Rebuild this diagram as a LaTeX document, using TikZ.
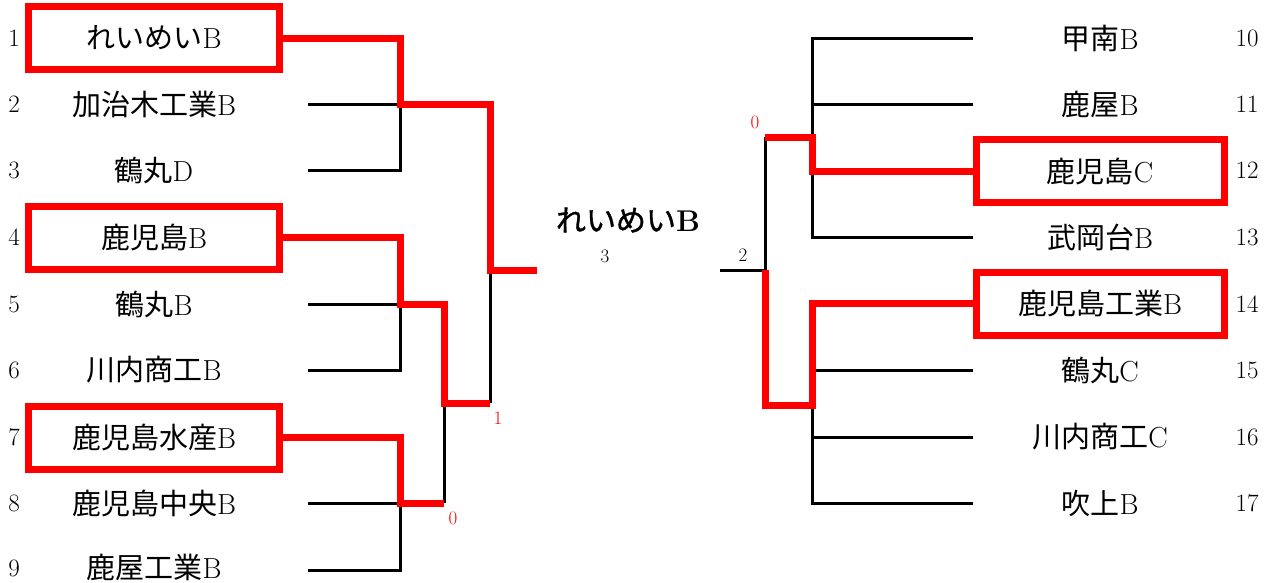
\documentclass[tikz,border=0pt]{standalone}
\usepackage{fontspec}
\newfontfamily\cjk{Noto Sans CJK JP}
\newfontfamily\cjkb[FakeBold=1.2]{Noto Sans CJK JP}
\newcommand\namefont{\fontsize{29}{31}\selectfont}
\newcommand\numfont{\fontsize{25}{27}\selectfont}
\newcommand\scfont{\fontsize{19}{21}\selectfont}
\newcommand\jp[1]{{\cjk #1}}
\begin{document}
\begin{tikzpicture}[x=1pt,y=-1pt,
  nm/.style={minimum width=251pt,minimum height=63pt,inner sep=0pt,font=\namefont},
  rnm/.style={minimum width=248pt,minimum height=63pt,inner sep=0pt,font=\namefont},
  win/.style={draw=red,line width=7pt},
  num/.style={font=\numfont,inner sep=0pt},
  bl/.style={draw=black,line width=3pt},
  rd/.style={draw=red,line width=7pt,line join=miter},
  sc/.style={font=\scfont,inner sep=0pt}]
\useasboundingbox (0,0) rectangle (1274,582);
% left names
\node[nm,win] (L1) at (154,38) {\jp{れいめい}B};
\node[nm] (L2) at (154,104) {\jp{加治木工業}B};
\node[nm] (L3) at (154,170) {\jp{鶴丸}D};
\node[nm,win] (L4) at (154,237.5) {\jp{鹿児島}B};
\node[nm] (L5) at (154,304) {\jp{鶴丸}B};
\node[nm] (L6) at (154,370) {\jp{川内商工}B};
\node[nm,win] (L7) at (154,437.5) {\jp{鹿児島水産}B};
\node[nm] (L8) at (154,503) {\jp{鹿児島中央}B};
\node[nm] (L9) at (154,567) {\jp{鹿屋工業}B};
% left numbers
\foreach \i/\y in {1/38,2/104,3/170,4/237,5/304,6/370,7/437,8/503,9/568}
  \node[num] (n\i) at (14,\y) {\i};
% right names
\node[rnm] (R10) at (1100,38) {\jp{甲南}B};
\node[rnm] (R11) at (1100,104) {\jp{鹿屋}B};
\node[rnm,win] (R12) at (1100,171) {\jp{鹿児島}C};
\node[rnm] (R13) at (1100,237) {\jp{武岡台}B};
\node[rnm,win] (R14) at (1100,303.5) {\jp{鹿児島工業}B};
\node[rnm] (R15) at (1100,370) {\jp{鶴丸}C};
\node[rnm] (R16) at (1100,437) {\jp{川内商工}C};
\node[rnm] (R17) at (1100,503) {\jp{吹上}B};
\foreach \i/\y in {10/38,11/104,12/170,13/237,14/304,15/370,16/437,17/503}
  \node[num] (n\i) at (1247,\y) {\i};
% center
\node[font=\fontsize{30}{32}\selectfont,inner sep=0pt] (champ) at (628,220) {{\cjkb れいめい}\textbf{B}};
\node[sc] (s3) at (605,256) {3};
\node[sc] (s2) at (743,255) {2};
\node[sc,text=red] (s1L) at (498,418) {1};
\node[sc,text=red] (s0L) at (453,518) {0};
\node[sc,text=red] (s0R) at (755,122) {0};
% coordinates left
\coordinate (a2) at (308,104); \coordinate (a3) at (308,170);
\coordinate (a5) at (308,304); \coordinate (a6) at (308,370);
\coordinate (a8) at (308,503); \coordinate (a9) at (308,570);
\coordinate (jA) at (400,104); \coordinate (jB) at (400,304); \coordinate (jC) at (400,503);
\coordinate (kB) at (444,403); \coordinate (kBC) at (444,503);
\coordinate (mT) at (490,104); \coordinate (mO) at (490,270); \coordinate (mB) at (490,403);
\coordinate (fL) at (537,270);
% coordinates right
\coordinate (b10) at (973,38); \coordinate (b11) at (973,104); \coordinate (b13) at (973,237);
\coordinate (b15) at (973,370); \coordinate (b16) at (973,437); \coordinate (b17) at (973,503);
\coordinate (pT) at (812,38); \coordinate (pB) at (812,237);
\coordinate (qT) at (812,405); \coordinate (qB) at (812,503);
\coordinate (rT) at (765,137); \coordinate (rO) at (765,270); \coordinate (rB) at (765,405);
\coordinate (fR) at (720,270);
% black lines left
\draw[bl] (a2) -- (jA);
\draw[bl] (a3) -- (400,170) -- (jA);
\draw[bl] (a5) -- (jB);
\draw[bl] (a6) -- (400,370) -- (jB);
\draw[bl] (a8) -- (jC);
\draw[bl] (a9) -- (400,570) -- (jC);
\draw[bl] (mO) -- (mB);
\draw[bl] (kB) -- (kBC);
% black lines right
\draw[bl] (b10) -- (pT) -- (pB) -- (b13);
\draw[bl] (b11) -- (812,104);
\draw[bl] (qT) -- (qB) -- (b17);
\draw[bl] (b15) -- (812,370);
\draw[bl] (b16) -- (812,437);
\draw[bl] (rT) -- (rO) -- (fR);
% red paths left
\draw[rd] (L1.east) -- (400,38) -- (jA) -- (mT) -- (mO) -- (fL);
\draw[rd] (L4.east) -- (400,237.5) -- (jB) -- (444,304) -- (kB) -- (mB);
\draw[rd] (L7.east) -- (400,437.5) -- (jC) -- (kBC);
% red paths right
\draw[rd] (R12.west) -- (812,171) -- (812,137) -- (rT);
\draw[rd] (R14.west) -- (812,303.5) -- (qT) -- (rB) -- (rO);
\end{tikzpicture}
\end{document}
